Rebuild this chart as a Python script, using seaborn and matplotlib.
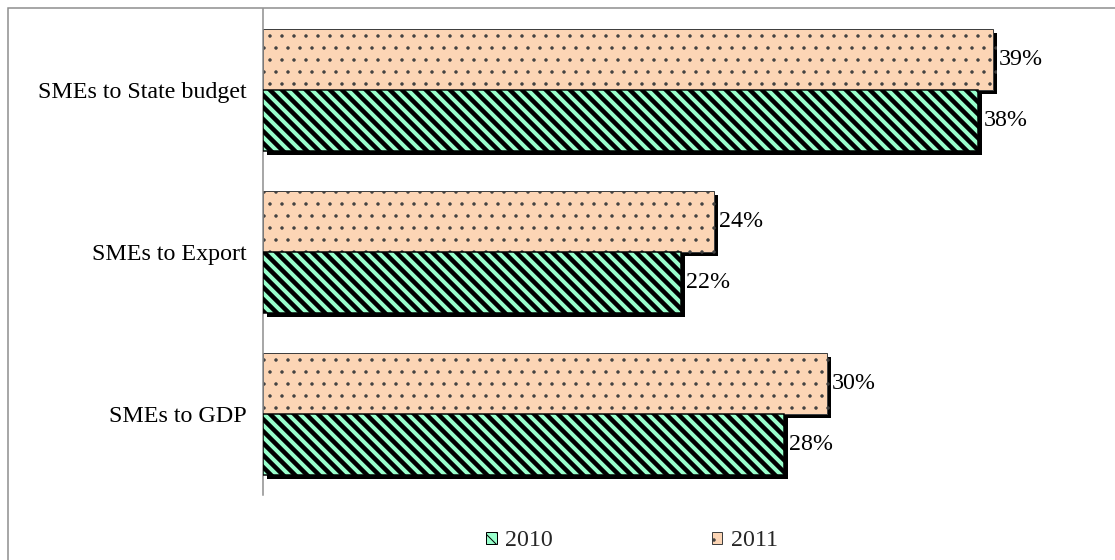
import matplotlib
matplotlib.use("Agg")
import matplotlib.pyplot as plt
import matplotlib.patheffects as pe
from matplotlib.patches import Patch, Rectangle
import seaborn as sns
import pandas as pd

categories = ['SMEs to State budget', 'SMEs to Export', 'SMEs to GDP']
share_2010 = [38.2, 22.3, 27.8]
share_2011 = [39.0, 24.1, 30.1]
years = ['2010', '2011']

sns.set_style('white')
plt.rcParams['font.family'] = ['Liberation Serif', 'DejaVu Serif']
plt.rcParams['hatch.linewidth'] = 1.0

GREEN = '#99FFCC'
PEACH = '#FCD5B5'
FS = 24

df = pd.DataFrame({
    'category': categories * 2,
    'value': share_2010 + share_2011,
    'year': ['2010'] * len(categories) + ['2011'] * len(categories),
})

W, H, DPI = 1115, 560, 72
fig = plt.figure(figsize=(W / DPI, H / DPI), dpi=DPI)
ax = fig.add_axes([263 / W, 1 - 495 / H, 824 / W, 486 / H])

sns.barplot(data=df, x='value', y='category', hue='year', order=categories,
            hue_order=['2011', '2010'], palette={'2010': GREEN, '2011': PEACH},
            width=0.75, gap=0, saturation=1, legend=False, ax=ax, errorbar=None)

shadow = [pe.SimplePatchShadow(offset=(4, -4), shadow_rgbFace='black', alpha=1.0), pe.Normal()]

c2011, c2010 = ax.containers[0], ax.containers[1]
for p in c2011:
    p.set_hatch('.')
    p.set_edgecolor('#404040')
    p.set_linewidth(1.0)
    p.set_zorder(2)
    p.set_path_effects(shadow)
    if hasattr(p, 'set_hatch_linewidth'):
        p.set_hatch_linewidth(1.0)
for p in c2010:
    p.set_hatch('\\\\')
    p.set_edgecolor('black')
    p.set_linewidth(1.5)
    p.set_zorder(3)
    p.set_path_effects(shadow)
    if hasattr(p, 'set_hatch_linewidth'):
        p.set_hatch_linewidth(4.5)

for cont, vals in ((c2011, share_2011), (c2010, share_2010)):
    ax.bar_label(cont, labels=[f'{v:.0f}%' for v in vals], padding=5,
                 fontsize=FS, color='black')

ax.set_xlim(0, 44)
ax.set_ylim(2.5, -0.5)
ax.set_xlabel('')
ax.set_ylabel('')
ax.tick_params(left=False, bottom=False, labelbottom=False, labelsize=FS, pad=13,
               labelcolor='black')
for s in ('top', 'right', 'bottom'):
    ax.spines[s].set_visible(False)
ax.spines['left'].set_color('#8c8c8c')
ax.spines['left'].set_linewidth(1.5)

leg2010 = Patch(facecolor=GREEN, edgecolor='black', hatch='\\\\', label='2010')
leg2011 = Patch(facecolor=PEACH, edgecolor='#404040', hatch='.', label='2011')
if hasattr(leg2010, 'set_hatch_linewidth'):
    leg2010.set_hatch_linewidth(3.0)
fig.legend(handles=[leg2010, leg2011], loc='center', bbox_to_anchor=(632 / W, 1 - 541 / H),
           ncol=2, frameon=False, fontsize=FS, handlelength=0.45, handleheight=0.45,
           handletextpad=0.35, columnspacing=6.6)

fig.add_artist(Rectangle((8 / W, -0.1), 1.2, 1.1 - 8 / H, transform=fig.transFigure,
                         fill=False, edgecolor='#8c8c8c', linewidth=1.5))

fig.savefig('out.png', dpi=DPI)
